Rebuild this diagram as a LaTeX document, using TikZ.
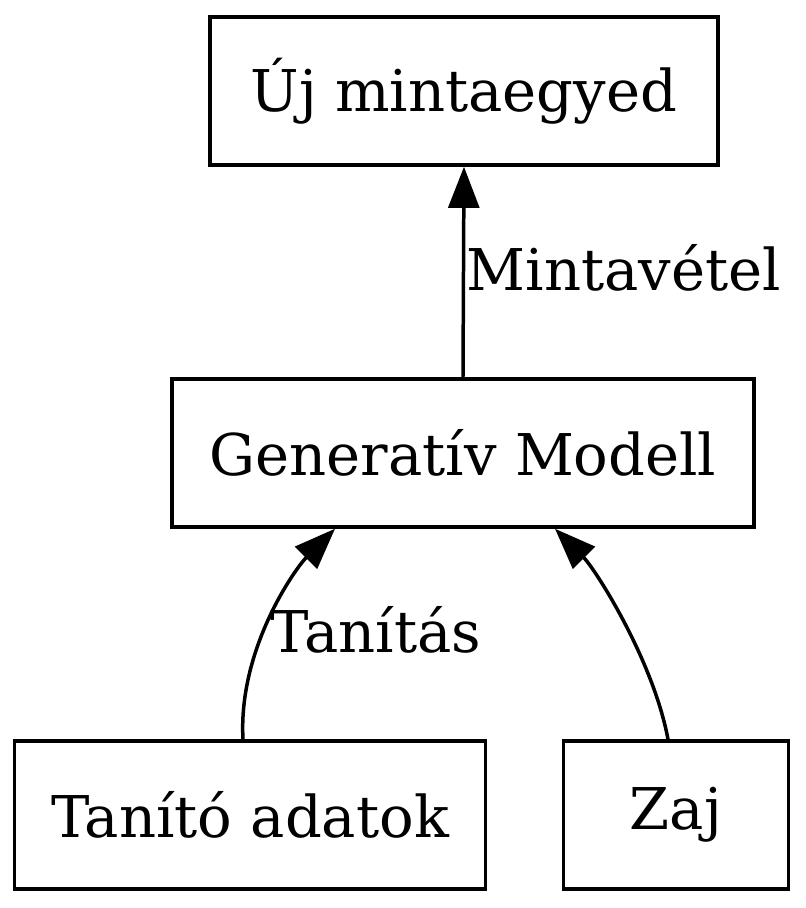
\documentclass[tikz,border=0pt]{standalone}
\usepackage{fontspec}
\setmainfont{DejaVu Serif}
\usetikzlibrary{arrows.meta,calc}
\begin{document}
\begin{tikzpicture}[x=0.2432pt,y=-0.2432pt,
    box/.style={draw,line width=0.85pt,minimum height=36pt,inner sep=0pt,
      font=\fontsize{14}{16}\selectfont},
    edge/.style={line width=0.85pt,-{Triangle[length=10pt,width=7.5pt]}},
    lbl/.style={inner sep=0pt,font=\fontsize{14}{16}\selectfont}]
      \useasboundingbox (0,0) rectangle (806,908);
      \draw
        (464,91) node[box,minimum width=123.5pt] (uj){Új mintaegyed}
        (463,453) node[box,minimum width=141.5pt] (gen){Generatív Modell}
        (250,815) node[box,minimum width=114.5pt] (tan){Tanító adatok}
        (676,815) node[box,minimum width=54.7pt] (zaj){Zaj};
      \begin{scope}[-]
        \draw[edge] (gen.north) to (uj.south);
        \draw[edge] ($(tan.north)+(-7,0)$) .. controls +(-5,-90) and +(-40,40) .. ($(gen.south)+(-128,0)$);
        \draw[edge] ($(zaj.north)+(-8,0)$) .. controls +(-15,-80) and +(40,40) .. ($(gen.south)+(92,0)$);
      \end{scope}
      \node[lbl,anchor=west] (mv) at (466,268) {Mintavétel};
      \node[lbl] (ta) at (376,630) {Tanítás};
    \end{tikzpicture}
\end{document}
